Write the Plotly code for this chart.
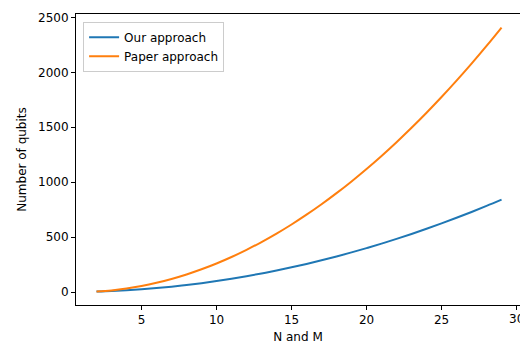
import plotly.graph_objs as go

# values
n_values = list(range(2, 30))
our_qubits = [4, 9, 16, 25, 36, 49, 64, 81, 100, 121, 144, 169, 196, 225,
              256, 289, 324, 361, 400, 441, 484, 529, 576, 625, 676, 729, 784, 841]
paper_qubits = [4, 15, 32, 55, 84, 119, 160, 207, 260, 319, 384, 455, 532, 615,
                704, 799, 900, 1007, 1120, 1239, 1364, 1495, 1632, 1775, 1924,
                2079, 2240, 2407]
x_ticks = [5, 10, 15, 20, 25, 30]
y_ticks = [0, 500, 1000, 1500, 2000, 2500]

font = dict(family='DejaVu Sans', size=12, color='#000000')

data = [go.Scatter(x=n_values, y=our_qubits, mode='lines', name='Our approach',
                   line=dict(color='#1f77b4', width=2, shape='spline')),
        go.Scatter(x=n_values, y=paper_qubits, mode='lines', name='Paper approach',
                   line=dict(color='#ff7f0e', width=2, shape='spline'))]

axis_style = dict(showgrid=False, zeroline=False, showline=True, linecolor='#000000',
                  linewidth=1, ticks='outside', ticklen=4, tickcolor='#000000',
                  tickfont=font, automargin=False)

layout = go.Layout(width=520, height=347,
                   margin=dict(l=76, r=0, t=14, b=42),
                   paper_bgcolor='white', plot_bgcolor='white',
                   font=font,
                   xaxis=dict(axis_style, range=[0.633, 30.23], mirror=True,
                              tickvals=x_ticks,
                              title=dict(text='N and M', font=font, standoff=6)),
                   yaxis=dict(axis_style, range=[-118, 2531],
                              tickvals=y_ticks,
                              title=dict(text='Number of qubits', font=font, standoff=8)),
                   legend=dict(x=0.016, y=0.973, xanchor='left', yanchor='top',
                               bgcolor='rgba(255,255,255,0.8)', bordercolor='#cccccc',
                               borderwidth=1, font=font, tracegroupgap=0),
                   showlegend=True)

fig = go.Figure(data, layout)

# plotly drops the last tick label since it runs past the edge; the reference shows it cut off
fig.add_annotation(x=x_ticks[-1], xref='x', y=0, yref='paper', yanchor='top',
                   text=str(x_ticks[-1]), showarrow=False, yshift=-5, font=font)

# the page body has a default 8px margin, drop it so the chart sits at 0,0
fig.write_html("out.html", config={'displayModeBar': False},
               post_script="document.body.style.margin='0';")
